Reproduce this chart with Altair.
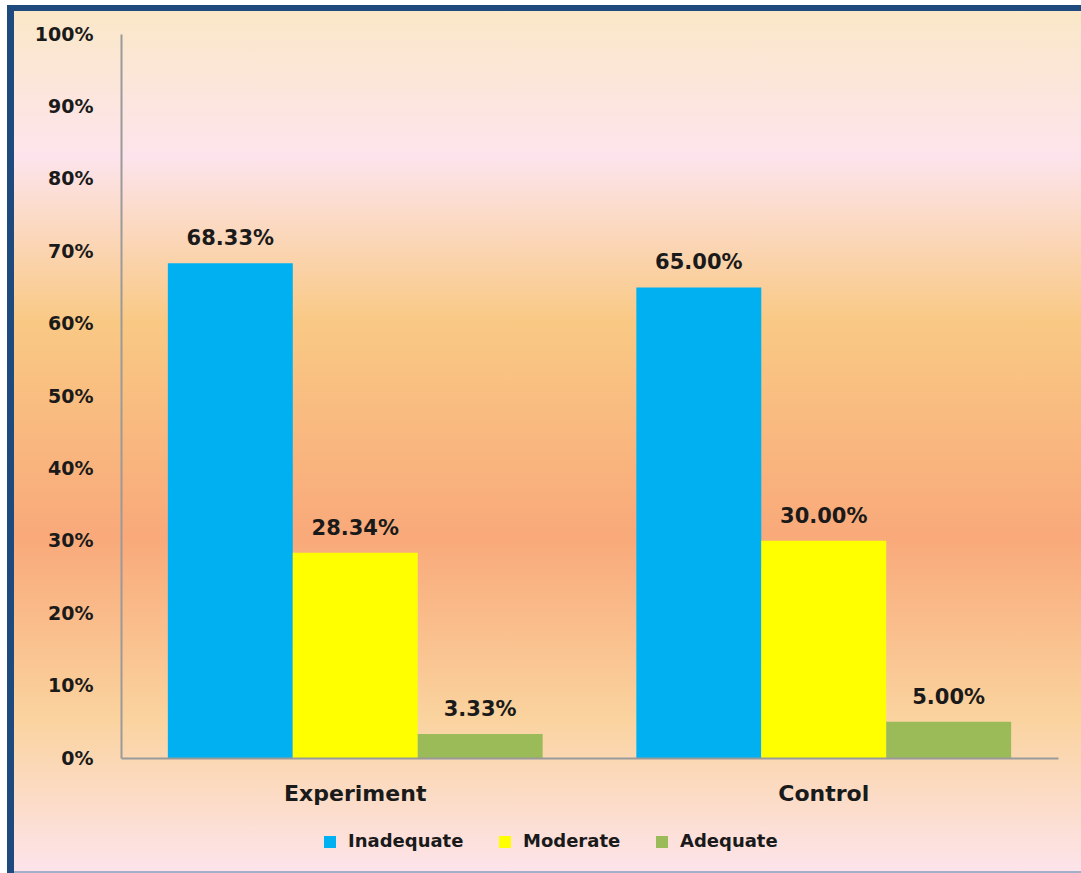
import altair as alt
import pandas as pd

groups = ["Experiment", "Control"]
levels = ["Inadequate", "Moderate", "Adequate"]
experiment_pct = [68.33, 28.34, 3.33]
control_pct = [65.00, 30.00, 5.00]
colors = ["#00B0F0", "#FFFF00", "#9BBB59"]
y_ticks = [0, 0.1, 0.2, 0.3, 0.4, 0.5, 0.6, 0.7, 0.8, 0.9, 1.0]

rows = []
for g, vals in zip(groups, [experiment_pct, control_pct]):
    for lvl, v in zip(levels, vals):
        rows.append({"group": g, "level": lvl, "value": v / 100})
df = pd.DataFrame(rows)
one = pd.DataFrame({"k": [0]})

FONT = "DejaVu Sans"
W, H = 937, 724

gradient = {
    "gradient": "linear",
    "x1": 0, "y1": 0, "x2": 0, "y2": 1,
    "stops": [
        {"offset": 0.0, "color": "#FAE8C8"},
        {"offset": 0.17, "color": "#FDE4EC"},
        {"offset": 0.36, "color": "#F9C984"},
        {"offset": 0.61, "color": "#F9A97A"},
        {"offset": 0.82, "color": "#FAD39E"},
        {"offset": 1.0, "color": "#FDE4EC"},
    ],
}

bg = alt.Chart(one).mark_rect(fill=gradient).encode(
    x=alt.value(-107), x2=alt.value(W + 23), y=alt.value(-23), y2=alt.value(H + 115)
)
border_top = alt.Chart(one).mark_rect(color="#1F4A7E").encode(
    x=alt.value(-114), x2=alt.value(W + 23), y=alt.value(-29), y2=alt.value(-23)
)
border_left = alt.Chart(one).mark_rect(color="#1F4A7E").encode(
    x=alt.value(-114), x2=alt.value(-107), y=alt.value(-29), y2=alt.value(H + 115)
)
bottom_line = alt.Chart(one).mark_rect(color="#A3AEC9").encode(
    x=alt.value(-107), x2=alt.value(W + 23), y=alt.value(H + 113), y2=alt.value(H + 115)
)

base = alt.Chart(df).encode(
    x=alt.X(
        "group:N",
        sort=groups,
        scale=alt.Scale(paddingInner=0.2, paddingOuter=0.1),
        axis=alt.Axis(
            title=None, labelAngle=0, labelFont=FONT, labelFontSize=22,
            labelFontWeight="bold", labelColor="#1a1a1a", labelPadding=25,
            ticks=False, domainColor="#9A9A9A", domainWidth=2, zindex=1,
        ),
    ),
    xOffset=alt.XOffset("level:N", sort=levels, scale=alt.Scale(paddingInner=0, paddingOuter=0)),
    y=alt.Y(
        "value:Q",
        scale=alt.Scale(domain=[0, 1], nice=False),
        axis=alt.Axis(
            title=None, values=y_ticks, format=".0%", labelFont=FONT,
            labelFontSize=19, labelFontWeight="bold", labelColor="#1a1a1a",
            labelPadding=28, ticks=False, grid=False, domainColor="#9A9A9A",
            domainWidth=2, zindex=1,
        ),
    ),
)

bars = base.mark_bar().encode(
    color=alt.Color(
        "level:N",
        sort=levels,
        scale=alt.Scale(domain=levels, range=colors),
        legend=alt.Legend(
            title=None, orient="none", direction="horizontal",
            legendX=200, legendY=799, symbolType="square", symbolSize=144,
            symbolStrokeWidth=0, labelFont=FONT, labelFontSize=18,
            labelFontWeight="bold", labelColor="#1a1a1a", labelOffset=9,
            columnPadding=32, padding=0,
        ),
    )
)

labels = base.mark_text(
    font=FONT, fontSize=21, fontWeight="bold", color="#1a1a1a",
    baseline="alphabetic", dy=-18,
).encode(text=alt.Text("value:Q", format=".2%"))

chart = (
    alt.layer(bg, border_top, border_left, bottom_line, bars, labels)
    .properties(
        width=W, height=H,
        padding={"left": 121, "top": 34, "right": 23, "bottom": 115},
        autosize=alt.AutoSizeParams(type="none"),
        background="white",
    )
    .configure_view(stroke=None)
)

chart.save("out.html", embed_options={"renderer": "svg", "actions": False})
